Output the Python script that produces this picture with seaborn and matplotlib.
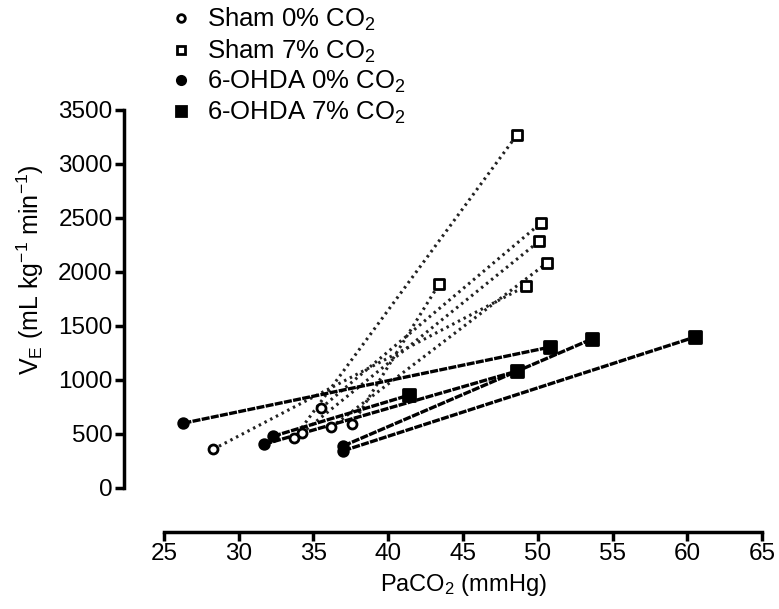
import pandas as pd
import seaborn as sns
import matplotlib.pyplot as plt
from matplotlib.lines import Line2D

# Sham animals: PaCO2 / VE at 0% and 7% CO2 (one pair per animal)
sham_paco2_0 = [28.3, 33.7, 35.5, 34.2, 36.2, 37.6]
sham_ve_0 = [359, 461, 739, 507, 563, 590]
sham_paco2_7 = [49.2, 48.6, 50.2, 50.1, 50.6, 43.4]
sham_ve_7 = [1869, 3267, 2452, 2286, 2082, 1888]

# 6-OHDA animals
ohda_paco2_0 = [26.3, 31.7, 32.3, 37.0, 37.0]
ohda_ve_0 = [600, 405, 479, 390, 345]
ohda_paco2_7 = [50.8, 48.6, 41.4, 53.6, 60.5]
ohda_ve_7 = [1304, 1082, 860, 1378, 1397]

x_ticks = [25, 30, 35, 40, 45, 50, 55, 60, 65]
y_ticks = [0, 500, 1000, 1500, 2000, 2500, 3000, 3500]


def pairs(group, x0, y0, x7, y7):
    rows = []
    for i in range(len(x0)):
        rows.append({"group": group, "animal": i, "co2": 0, "paco2": x0[i], "ve": y0[i]})
        rows.append({"group": group, "animal": i, "co2": 7, "paco2": x7[i], "ve": y7[i]})
    return pd.DataFrame(rows)


sham = pairs("Sham", sham_paco2_0, sham_ve_0, sham_paco2_7, sham_ve_7)
ohda = pairs("6-OHDA", ohda_paco2_0, ohda_ve_0, ohda_paco2_7, ohda_ve_7)

sns.set_style("white")
plt.rcParams["font.family"] = ["Liberation Sans", "DejaVu Sans"]
plt.rcParams["mathtext.fontset"] = "custom"
plt.rcParams["mathtext.rm"] = "Liberation Sans"
plt.rcParams["mathtext.it"] = "Liberation Sans:italic"
for key in ["text.color", "axes.labelcolor", "xtick.color", "ytick.color"]:
    plt.rcParams[key] = "black"

fig = plt.figure(figsize=(7.79, 6.09), dpi=100)
ax = fig.add_axes([0.2105, 0.1987, 0.7677, 0.6207])

# connecting lines
sns.lineplot(data=sham, x="paco2", y="ve", units="animal", estimator=None, sort=False,
             color="#222222", lw=2.2, linestyle=(0, (0.8, 1.3)), legend=False, ax=ax)
sns.lineplot(data=ohda, x="paco2", y="ve", units="animal", estimator=None, sort=False,
             color="black", lw=2.4, linestyle=(0, (2.4, 0.4)), legend=False, ax=ax)

# markers
mk = dict(edgecolor="black", linewidth=2, clip_on=False, zorder=5, ax=ax, legend=False)
sns.scatterplot(data=sham[sham.co2 == 0], x="paco2", y="ve", marker="o", color="white", s=42, **mk)
sns.scatterplot(data=sham[sham.co2 == 7], x="paco2", y="ve", marker="s", color="white", s=48, **mk)
sns.scatterplot(data=ohda[ohda.co2 == 0], x="paco2", y="ve", marker="o", color="black", s=48, **mk)
sns.scatterplot(data=ohda[ohda.co2 == 7], x="paco2", y="ve", marker="s", color="black", s=70, **mk)

ax.set_xlim(25, 65)
ax.set_ylim(0, 3500)
ax.set_xticks(x_ticks)
ax.set_yticks(y_ticks)

sns.despine(ax=ax)
ax.spines["left"].set_position(("outward", 29))
ax.spines["bottom"].set_position(("outward", 31.5))
ax.spines["left"].set_bounds(0, 3500)
ax.spines["bottom"].set_bounds(25, 65)
for s in ["left", "bottom"]:
    ax.spines[s].set_linewidth(2.5)
    ax.spines[s].set_color("black")
    ax.spines[s].set_capstyle("projecting")
ax.tick_params(axis="both", length=6.5, width=2.5, color="black", labelsize=17.5, pad=1.5,
               direction="out", left=True, bottom=True)

ax.set_xlabel("PaCO$_2$ (mmHg)", fontsize=17, labelpad=5)
ax.set_ylabel("V$_\\mathrm{E}$ (mL kg$^{-1}$ min$^{-1}$)", fontsize=18)
ax.yaxis.set_label_coords(-0.197, 0.577)

handles = [
    Line2D([], [], ls="none", marker="o", mfc="white", mec="black", mew=2, ms=5.5),
    Line2D([], [], ls="none", marker="s", mfc="white", mec="black", mew=2, ms=6),
    Line2D([], [], ls="none", marker="o", mfc="black", mec="black", mew=2, ms=6),
    Line2D([], [], ls="none", marker="s", mfc="black", mec="black", mew=2, ms=7.5),
]
labels = ["Sham 0% CO$_2$", "Sham 7% CO$_2$", "6-OHDA 0% CO$_2$", "6-OHDA 7% CO$_2$"]
fig.legend(handles, labels, loc="upper left", bbox_to_anchor=(0.218, 0.99), frameon=False,
           fontsize=18.5, handlelength=0.9, handletextpad=0.55, labelspacing=0.17,
           borderpad=0, borderaxespad=0)

plt.savefig("out.png", dpi=100)
